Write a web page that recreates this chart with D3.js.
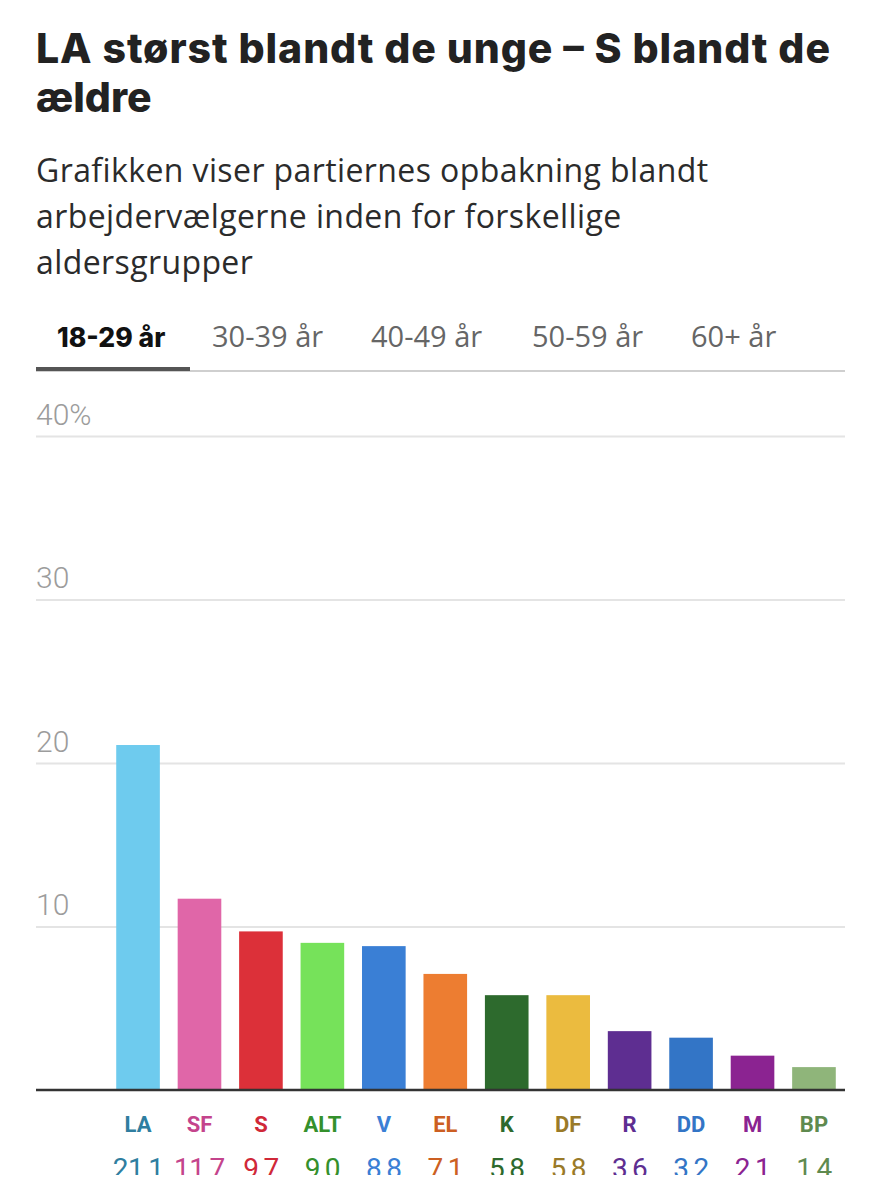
<!DOCTYPE html>
<html>
<head>
    <meta charset="utf-8">
    <style>
        body {
            margin: 0;
            background: #fff;
        }

        svg {
            display: block;
        }

        .title {
            font-family: Inter, 'Noto Sans', sans-serif;
            font-weight: 800;
            font-size: 41px;
            fill: #222;
        }

        .sub {
            font-family: 'Open Sans', 'Noto Sans', sans-serif;
            font-size: 32px;
            letter-spacing: 0.4px;
            fill: #2b2b2b;
        }

        .tab {
            font-family: 'Open Sans', 'Noto Sans', sans-serif;
            font-size: 29px;
            fill: #666;
        }

        .tick text {
            font-family: Roboto, 'Noto Sans', sans-serif;
            font-weight: 300;
            font-size: 30px;
            fill: #9c9c9c;
        }
    </style>
</head>

<body>
    <svg width="880" height="1200"></svg>

    <script src="https://d3js.org/d3.v7.min.js"></script>
    <script>
        // data: support among worker voters, age 18-29
        let parties = ["LA", "SF", "S", "ALT", "V", "EL", "K", "DF", "R", "DD", "M", "BP"]
        let values = [21.1, 11.7, 9.7, 9.0, 8.8, 7.1, 5.8, 5.8, 3.6, 3.2, 2.1, 1.4]
        let barColors = ["#6ecbee", "#e066a8", "#dc3039", "#76e25a", "#3a7fd5", "#ed7d31",
            "#2d6a2d", "#ebbb3f", "#5e2e91", "#3375c6", "#8b2391", "#8fb57a"]
        let labelColors = ["#2f7ea0", "#c4448c", "#d02838", "#34902c", "#3a7fd5", "#cc5f22",
            "#2d6a2d", "#9a7a28", "#5e2e91", "#3375c6", "#8b2391", "#5f8a4f"]
        let tickValues = [0, 10, 20, 30, 40]
        let tabs = ["18-29 år", "30-39 år", "40-49 år", "50-59 år", "60+ år"]

        let titleLines = ["LA størst blandt de unge – S blandt de", "ældre"]
        let subLines = ["Grafikken viser partiernes opbakning blandt",
            "arbejdervælgerne inden for forskellige", "aldersgrupper"]

        let svg = d3.select("svg")

        let plotLeft = 36, plotRight = 845
        let plotTop = 436, plotBottom = 1090

        // header
        svg.selectAll(".title")
            .data(titleLines)
            .join("text")
            .attr("class", "title")
            .attr("x", plotLeft)
            .attr("y", (d, i) => 63 + i * 49)
            .attr("textLength", (d, i) => i == 0 ? 794 : null)
            .attr("lengthAdjust", "spacing")
            .text(d => d)

        svg.selectAll(".sub")
            .data(subLines)
            .join("text")
            .attr("class", "sub")
            .attr("x", plotLeft)
            .attr("y", (d, i) => 182 + i * 46)
            .text(d => d)

        // tabs
        let tabX = [57, 212, 371, 532, 691]
        svg.selectAll(".tab")
            .data(tabs)
            .join("text")
            .attr("class", "tab")
            .attr("x", (d, i) => tabX[i])
            .attr("y", 347)
            .style("font-family", (d, i) => i == 0 ? "Inter, sans-serif" : null)
            .style("font-weight", (d, i) => i == 0 ? 800 : 400)
            .style("font-size", (d, i) => i == 0 ? "26.5px" : null)
            .style("fill", (d, i) => i == 0 ? "#111" : "#666")
            .text(d => d)

        svg.append("line")
            .attr("x1", plotLeft).attr("x2", plotRight)
            .attr("y1", 371).attr("y2", 371)
            .style("stroke", "#cfcfcf")
            .style("stroke-width", 2)

        svg.append("line")
            .attr("x1", plotLeft).attr("x2", 190)
            .attr("y1", 369).attr("y2", 369)
            .style("stroke", "#555")
            .style("stroke-width", 4)

        // scales
        let y = d3.scaleLinear()
            .domain([0, 40])
            .range([plotBottom, plotTop])

        let x = d3.scaleBand()
            .domain(parties)
            .range([107, plotRight])
            .paddingInner(0.29)
            .paddingOuter(0.15)

        // grid
        let yAxis = d3.axisLeft(y)
            .tickValues(tickValues.filter(d => d > 0))
            .tickSize(-(plotRight - plotLeft))
            .tickFormat(d => d == 40 ? d + "%" : d)

        let g = svg.append("g")
            .attr("transform", `translate(${plotLeft},0)`)
            .call(yAxis)

        g.select(".domain").remove()
        g.selectAll(".tick line")
            .style("stroke", "#e4e4e4")
            .style("stroke-width", 2)
        g.selectAll(".tick text")
            .attr("x", 0)
            .attr("dy", -12)
            .attr("text-anchor", "start")

        // bars
        svg.selectAll(".bar")
            .data(values)
            .join("rect")
            .attr("class", "bar")
            .attr("x", (d, i) => x(parties[i]))
            .attr("width", x.bandwidth())
            .attr("y", d => y(d))
            .attr("height", d => y(0) - y(d))
            .style("fill", (d, i) => barColors[i])

        // baseline
        svg.append("line")
            .attr("x1", plotLeft).attr("x2", plotRight)
            .attr("y1", y(0)).attr("y2", y(0))
            .style("stroke", "#333")
            .style("stroke-width", 2.5)

        // party labels
        svg.selectAll(".plabel")
            .data(parties)
            .join("text")
            .attr("class", "plabel")
            .attr("x", d => x(d) + x.bandwidth() / 2)
            .attr("y", 1132)
            .attr("text-anchor", "middle")
            .style("font-family", "Roboto, 'Noto Sans', sans-serif")
            .style("font-weight", 700)
            .style("font-size", "22px")
            .style("fill", (d, i) => labelColors[i])
            .text(d => d)

        // values, cut off at the bottom like the screenshot
        svg.append("clipPath")
            .attr("id", "cut")
            .append("rect")
            .attr("x", 0).attr("y", 1140)
            .attr("width", 880).attr("height", 35)

        svg.append("g")
            .attr("clip-path", "url(#cut)")
            .selectAll(".vlabel")
            .data(values)
            .join("text")
            .attr("class", "vlabel")
            .attr("x", (d, i) => x(parties[i]) + x.bandwidth() / 2)
            .attr("y", 1178)
            .attr("text-anchor", "middle")
            .style("font-family", "Roboto, 'Noto Sans', sans-serif")
            .style("font-size", "28px")
            .style("letter-spacing", "-0.5px")
            .style("fill", (d, i) => labelColors[i])
            .text(d => d3.format(".1f")(d).replace(".", ","))
    </script>
</body>
</html>
